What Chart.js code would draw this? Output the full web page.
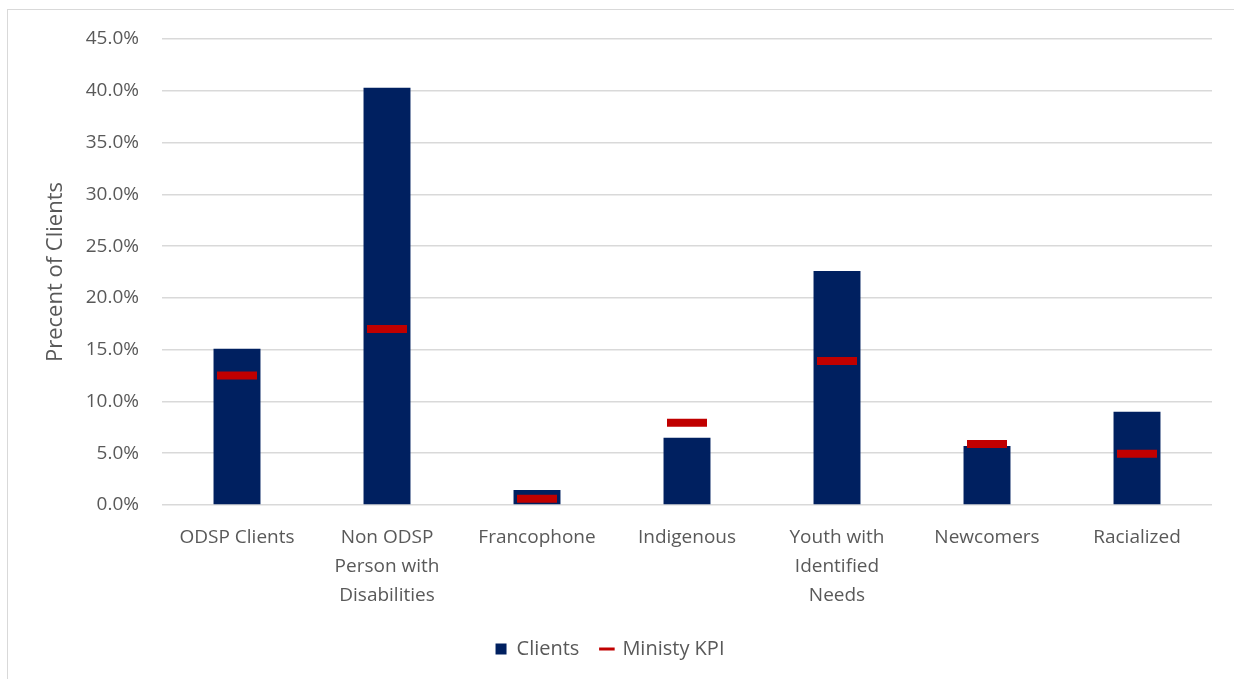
<!DOCTYPE html>
<html>
<head>
<meta charset="utf-8">
<script src="https://cdn.jsdelivr.net/npm/chart.js@4/dist/chart.umd.min.js"></script>
<style>
  body { margin: 0; background: #fff; }
  #wrap { position: relative; width: 1234px; height: 679px; }
  #frame { position: absolute; left: 7px; top: 9px; right: -2px; bottom: -2px; border: 1px solid #d9d9d9; }
  canvas { position: absolute; left: 0; top: 0; }
</style>
</head>
<body>
<div id="wrap">
  <div id="frame"></div>
  <canvas id="bar-chart" width="1234" height="679"></canvas>
</div>
<script>
const categories = [
    "ODSP Clients",
    ["Non ODSP", "Person with", "Disabilities"],
    "Francophone",
    "Indigenous",
    ["Youth with", "Identified", "Needs"],
    "Newcomers",
    "Racialized",
];
const clientValues = [15.1, 40.3, 1.45, 6.5, 22.6, 5.7, 9.0];
const kpiValues = [12.5, 17.0, 0.6, 7.95, 13.9, 5.9, 4.95];

const navy = "#002060";
const red = "#C00000";
const textGrey = "#595959";

Chart.defaults.font.family = "'Open Sans', Lato, sans-serif";
Chart.defaults.color = textGrey;

const displayChart = () => {
    new Chart(document.getElementById("bar-chart"), {
        data: {
            labels: categories,
            datasets: [
                {
                    type: "bar",
                    label: "Clients",
                    data: clientValues,
                    backgroundColor: navy,
                    categoryPercentage: 1,
                    barPercentage: 0.313,
                    order: 1,
                    pointStyle: "rect",
                },
                {
                    type: "line",
                    label: "Ministy KPI",
                    data: kpiValues,
                    showLine: false,
                    pointStyle: "line",
                    pointRadius: 20,
                    pointHoverRadius: 20,
                    pointBorderWidth: 8,
                    pointHoverBorderWidth: 8,
                    borderColor: red,
                    backgroundColor: red,
                    order: 0,
                },
            ],
        },
        options: {
            responsive: false,
            animation: false,
            layout: { autoPadding: false, padding: { left: 8, right: 22, top: 39, bottom: 10 } },
            plugins: {
                tooltip: { enabled: false },
                legend: {
                    position: "bottom",
                    labels: {
                        sort: (a, b) => a.datasetIndex - b.datasetIndex,
                        usePointStyle: true,
                        boxWidth: 11,
                        boxHeight: 11,
                        padding: 22,
                        font: { size: 20 },
                        color: textGrey,
                        generateLabels: (chart) =>
                            Chart.defaults.plugins.legend.labels
                                .generateLabels(chart)
                                .map((item) => {
                                    item.lineWidth = item.datasetIndex === 1 ? 3 : 0;
                                    return item;
                                }),
                    },
                },
            },
            scales: {
                x: {
                    afterFit: (scale) => {
                        scale.height = 112;
                    },
                    grid: { display: false },
                    border: { display: false },
                    ticks: {
                        font: { size: 19, lineHeight: 1.53 },
                        color: textGrey,
                        maxRotation: 0,
                        autoSkip: false,
                        padding: 10,
                    },
                },
                y: {
                    min: 0,
                    max: 45,
                    afterFit: (scale) => {
                        scale.width = 154;
                    },
                    grid: { color: "#d9d9d9", lineWidth: 1.5, drawTicks: false },
                    border: { display: false },
                    ticks: {
                        stepSize: 5,
                        padding: 23,
                        font: { size: 19 },
                        color: textGrey,
                        callback: (v) => v.toFixed(1) + "%",
                    },
                    title: {
                        display: true,
                        text: "Precent of Clients",
                        font: { size: 22 },
                        color: textGrey,
                        padding: { top: 35, bottom: 0 },
                    },
                },
            },
        },
    });
};

displayChart();
</script>
</body>
</html>
